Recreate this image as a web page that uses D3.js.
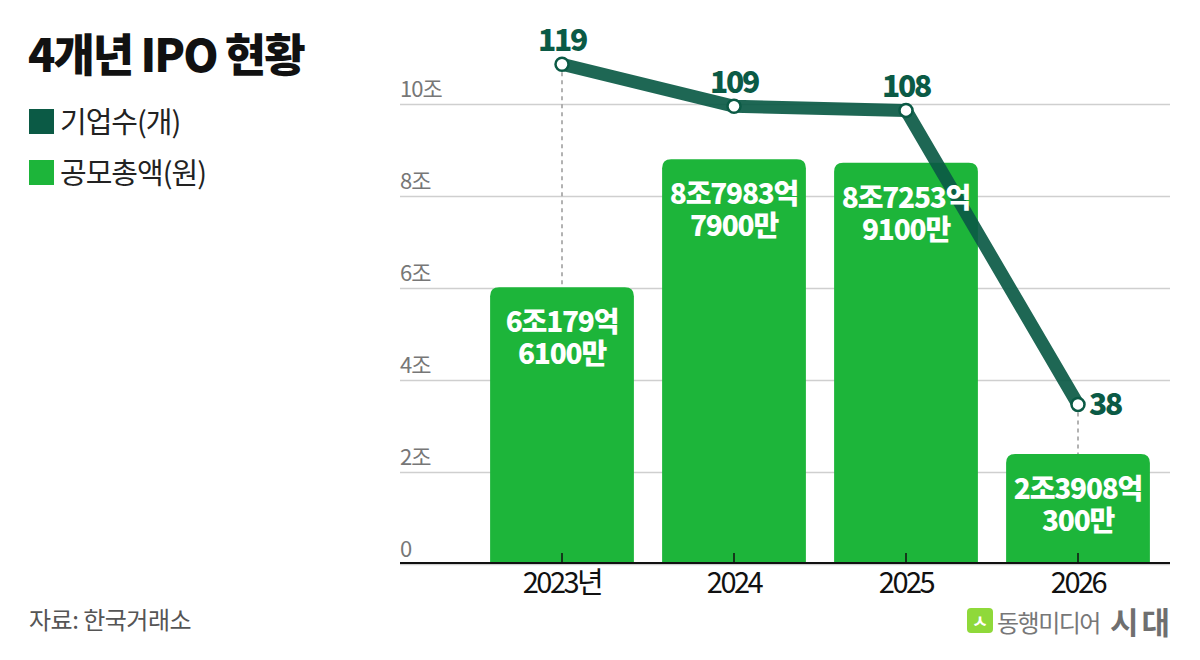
<!DOCTYPE html>
<html>
<head>
<meta charset="utf-8">
<script src="https://cdn.jsdelivr.net/npm/d3@7"></script>
<style>
  body { margin: 0; background: #fff; }
  svg { display: block; font-family: "Noto Sans CJK KR", "Noto Sans", sans-serif; }
</style>
</head>
<body>
<div id="chart"></div>
<script>
// data
var years = ["2023년", "2024", "2025", "2026"];
var amounts = [6.01796100, 8.79837900, 8.72539100, 2.39080300]; // 조 원
var amountTop = ["6조179억", "8조7983억", "8조7253억", "2조3908억"];
var amountBottom = ["6100만", "7900만", "9100만", "300만"];
var counts = [119, 109, 108, 38];
var yTicks = [0, 2, 4, 6, 8, 10];
var yTickLabels = ["0", "2조", "4조", "6조", "8조", "10조"];
var guideYears = ["2023년", "2026"]; // years with dotted guide from point to bar

var barColor = "#1db53a",
    lineColor = "#0b5a45";

var svg = d3.select("#chart")
    .append("svg")
    .attr("width", 1200)
    .attr("height", 660);

var data = years.map(function(d, i){
    return {year: d, amount: amounts[i], top: amountTop[i], bottom: amountBottom[i], count: counts[i]};
});

var x = d3.scaleBand()
    .domain(years)
    .range([476, 1164])
    .paddingInner(0.164)
    .paddingOuter(0.082);

var y = d3.scaleLinear()
    .domain([0, 10])
    .range([564, 104]);

var yCount = d3.scaleLinear()
    .domain([0, 120])
    .range([564, 60]);

var cx = function(d){ return x(d.year) + x.bandwidth() / 2; };

// grid + y labels
var grid = svg.append("g")
    .attr("transform", "translate(400,0)")
    .call(d3.axisLeft(y).tickValues(yTicks).tickSize(-770)
        .tickFormat(function(d, i){ return yTickLabels[i]; }));
grid.select(".domain").remove();
grid.selectAll("line").attr("stroke", "#cfcfcf").attr("stroke-width", 1.5);
grid.selectAll("text")
    .attr("x", 0)
    .attr("dy", -8)
    .attr("text-anchor", "start")
    .attr("fill", "#777")
    .style("font-size", "22px")
    .style("letter-spacing", "-1px")
    .style("font-family", "'Noto Sans CJK KR'");

// bars, rounded on top
function topRounded(x0, y0, w, h, r) {
    r = Math.min(r, h);
    return "M" + x0 + "," + (y0 + h) +
        "V" + (y0 + r) +
        "Q" + x0 + "," + y0 + " " + (x0 + r) + "," + y0 +
        "H" + (x0 + w - r) +
        "Q" + (x0 + w) + "," + y0 + " " + (x0 + w) + "," + (y0 + r) +
        "V" + (y0 + h) + "Z";
}

svg.append("g")
    .selectAll("path")
    .data(data).enter()
    .append("path")
    .attr("fill", barColor)
    .attr("d", function(d){
        return topRounded(x(d.year), y(d.amount), x.bandwidth(), y(0) - y(d.amount), 9);
    });

// dotted guides
svg.append("g")
    .selectAll("line")
    .data(data.filter(function(d){ return guideYears.indexOf(d.year) > -1; })).enter()
    .append("line")
    .attr("x1", cx).attr("x2", cx)
    .attr("y1", function(d){ return yCount(d.count); })
    .attr("y2", function(d){ return y(d.amount); })
    .attr("stroke", "#999")
    .attr("stroke-width", 1.5)
    .attr("stroke-dasharray", "4,4");

// x axis
svg.append("line")
    .attr("x1", 400).attr("x2", 1170)
    .attr("y1", 563).attr("y2", 563)
    .attr("stroke", "#111")
    .attr("stroke-width", 2);

var xAxis = svg.append("g")
    .attr("transform", "translate(0,563)")
    .call(d3.axisBottom(x).tickSize(-10).tickPadding(0));
xAxis.select(".domain").remove();
xAxis.selectAll("line").attr("stroke", "#111").attr("stroke-width", 1.5);
xAxis.selectAll("text")
    .attr("y", 30)
    .attr("dy", 0)
    .attr("fill", "#111")
    .style("font-size", "29px")
    .style("letter-spacing", "-2.5px")
    .style("font-family", "'Noto Sans CJK KR'");

// count line
var line = d3.line()
    .x(cx)
    .y(function(d){ return yCount(d.count); });

svg.append("path")
    .datum(data)
    .attr("d", line)
    .attr("fill", "none")
    .attr("stroke", lineColor)
    .attr("stroke-width", 13)
    .attr("stroke-opacity", 0.92)
    .attr("stroke-linejoin", "round");

svg.append("g")
    .selectAll("circle")
    .data(data).enter()
    .append("circle")
    .attr("cx", cx)
    .attr("cy", function(d){ return yCount(d.count); })
    .attr("r", 6.5)
    .attr("fill", "#fff")
    .attr("stroke", lineColor)
    .attr("stroke-width", 2.5);

// count labels
svg.append("g")
    .selectAll("text")
    .data(data).enter()
    .append("text")
    .attr("x", function(d, i){ return i === data.length - 1 ? cx(d) + 11 : cx(d); })
    .attr("y", function(d, i){ return i === data.length - 1 ? yCount(d.count) + 11 : yCount(d.count) - 13; })
    .attr("text-anchor", function(d, i){ return i === data.length - 1 ? "start" : "middle"; })
    .attr("fill", lineColor)
    .style("font-size", "30px")
    .style("font-weight", 800)
    .style("letter-spacing", "-2.2px")
    .text(function(d){ return d.count; });

// amount labels inside bars
var lbl = svg.append("g")
    .attr("fill", "#fff")
    .attr("text-anchor", "middle")
    .style("font-size", "28px")
    .style("font-weight", 800)
    .style("letter-spacing", "-1.2px");
lbl.selectAll("text.top")
    .data(data).enter()
    .append("text")
    .attr("class", "top")
    .attr("x", cx)
    .attr("y", function(d){ return y(d.amount) + 45; })
    .text(function(d){ return d.top; });
lbl.selectAll("text.bottom")
    .data(data).enter()
    .append("text")
    .attr("class", "bottom")
    .attr("x", cx)
    .attr("y", function(d){ return y(d.amount) + 77; })
    .text(function(d){ return d.bottom; });

// title
svg.append("text")
    .attr("x", 28).attr("y", 72)
    .attr("fill", "#111")
    .style("font-size", "45px")
    .style("font-weight", 900)
    .style("letter-spacing", "-2px")
    .text("4개년 IPO 현황");

// legend
var legend = [{name: "기업수(개)", color: lineColor}, {name: "공모총액(원)", color: barColor}];
var lg = svg.append("g")
    .selectAll("g")
    .data(legend).enter()
    .append("g")
    .attr("transform", function(d, i){ return "translate(29," + (109 + i * 51) + ")"; });
lg.append("rect")
    .attr("width", 25).attr("height", 25)
    .attr("fill", function(d){ return d.color; });
lg.append("text")
    .attr("x", 31).attr("y", 24)
    .attr("fill", "#222")
    .style("font-size", "29px")
    .style("letter-spacing", "-1px")
    .text(function(d){ return d.name; });

// source
svg.append("text")
    .attr("x", 29).attr("y", 629)
    .attr("fill", "#555")
    .style("font-size", "24px")
    .style("letter-spacing", "-0.5px")
    .text("자료: 한국거래소");

// logo
var logo = svg.append("g").attr("transform", "translate(967,608)");
logo.append("rect")
    .attr("width", 26).attr("height", 25).attr("rx", 4)
    .attr("fill", "#8fd93a");
logo.append("text")
    .attr("x", 13).attr("y", 20)
    .attr("text-anchor", "middle")
    .attr("fill", "#fff")
    .style("font-size", "18px")
    .style("font-weight", 700)
    .text("ㅅ");
logo.append("text")
    .attr("x", 30).attr("y", 24)
    .attr("fill", "#777")
    .style("font-size", "24px")
    .style("letter-spacing", "-1.5px")
    .text("동행미디어");
logo.append("text")
    .attr("x", 143).attr("y", 26)
    .attr("fill", "#6f6f6f")
    .style("font-size", "31px")
    .style("font-weight", 700)
    .style("letter-spacing", "3px")
    .text("시대");
</script>
</body>
</html>
